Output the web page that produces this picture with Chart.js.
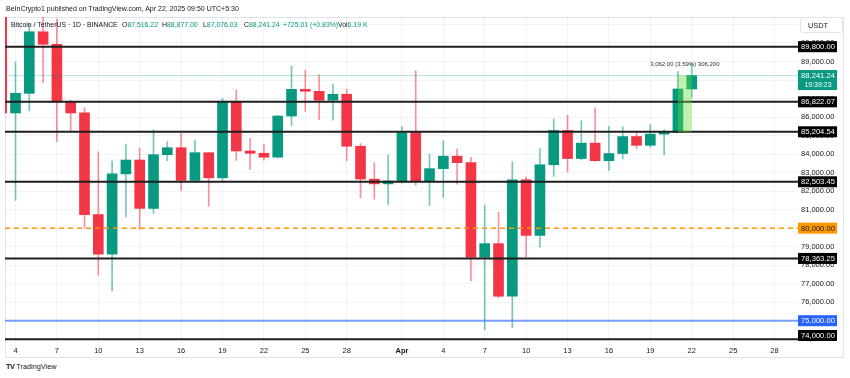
<!DOCTYPE html>
<html><head><meta charset="utf-8">
<script src="https://cdn.jsdelivr.net/npm/chart.js@4.4.1/dist/chart.umd.min.js"></script>
<style>
html,body{margin:0;padding:0;background:#fff;width:850px;height:378px;overflow:hidden;font-family:"Liberation Sans",Arial,sans-serif;color:#131722}
#wrap{position:relative;width:850px;height:378px}
#frame{position:absolute;left:5px;top:17px;width:839px;height:341px;border:1px solid #e0e3eb;box-sizing:border-box}
canvas{position:absolute;left:0;top:0}
.t{position:absolute;white-space:nowrap;line-height:8px}
#pub{left:6px;top:5px;font-size:7px}
.lg{top:21px;font-size:6.9px}
.g{color:#089981}
#footer{left:6px;top:363px;font-size:7.3px}
#footer b{font-weight:900;letter-spacing:-0.5px;margin-right:2px}
</style></head>
<body><div id="wrap">
<div id="frame"></div>
<canvas id="c" width="850" height="358"></canvas>
<div class="t" id="pub">BeInCrypto1 published on TradingView.com, Apr 22, 2025 09:50 UTC+5:30</div>
<div class="t lg" style="left:11px">Bitcoin / TetherUS · 1D · BINANCE</div>
<div class="t lg" style="left:122px">O<span class="g">87,516.22</span></div>
<div class="t lg" style="left:162px">H<span class="g">88,877.00</span></div>
<div class="t lg" style="left:203px">L<span class="g">87,076.03</span></div>
<div class="t lg" style="left:244px">C<span class="g">88,241.24</span></div>
<div class="t lg g" style="left:283px">+725.01 (+0.83%)</div>
<div class="t lg" style="left:338px">Vol<span class="g">6.19 K</span></div>
<div class="t" id="footer"><b>TV</b>TradingView</div>
</div>
<script>
// Day offsets from Mar 4, 2025 (Mar 3 = -1 ... Apr 22 = 49)
const dayIndex = [-1,0,1,2,3,4,5,6,7,8,9,10,11,12,13,14,15,16,17,18,19,20,21,22,23,24,25,26,27,
  28,29,30,31,32,33,34,35,36,37,38,39,40,41,42,43,44,45,46,47,48,49];
const opens  = [94270,86221,87281,90606,89931,86801,86222,80734,78596,82932,83680,81066,83969,84343,82580,84075,82718,86854,84167,84043,83832,86054,87498,87392,86909,87232,84424,82649,82390,
  82550,85158,82516,83213,83889,83538,78430,79163,76322,82615,79607,83423,85276,83760,84591,83643,84030,84947,84474,85077,85179,87516.22];
const highs  = [94416,88967,91000,92811,91283,86897,86500,84123,83617,84539,84336,85310,84672,85117,84756,84075,87000,87454,84850,84513,86094,88765,88540,88292,87786,87515,84567,83534,83943,
  85487,88500,83999,84720,84266,83818,81243,80867,83588,82753,84300,85905,86100,85799,86496,85500,85470,85132,85597,85320,88460,88877];
const lows   = [85117,81500,86334,87852,84667,85218,80000,77459,76606,80607,79939,80794,83639,82017,82457,81179,82547,83655,83175,83674,83794,85541,86310,85858,85837,83645,81634,81565,81279,
  82432,82320,81211,81659,82379,77153,74508,76239,74620,78464,78969,82792,83034,83678,83600,83111,83736,84303,84353,83949,85144,87076.03];
const closes = [86220,87281,90606,89931,86801,86222,80734,78595,82932,83680,81067,83969,84344,82580,84075,82718,86854,84167,84043,83832,86054,87498,87392,86909,87232,84424,82649,82390,82550,
  85158,82516,83213,83889,83538,78430,79163,76322,82615,79607,83423,85276,83760,84591,83643,84030,84947,84474,85077,85179,87516,88241.24];

const xTickDays   = [0,3,6,9,12,15,18,21,24,28,31,34,37,40,43,46,49,52,55];
const xTickLabels = ['4','7','10','13','16','19','22','25','28','Apr','4','7','10','13','16','19','22','25','28'];
const yTicks = [74000,75000,76000,77000,78000,79000,80000,81000,82000,83000,84000,85000,86000,87000,88000,89000,90000,91000];

const blackLevels = [89800, 86822.07, 85204.54, 82503.45, 78363.25, 74000];
const orangeLevel = 80000;
const blueLevel = 75000;
const lastPrice = 88241.24;
const lastTime = '19:39:23';
const measureDays = [48, 49];
const measurePrices = [85179.24, 88241.24];
const measureText = '3,062.00 (3.59%) 306,200';

const XMIN = -0.761, XMAX = 56.70, YMIN = 73688, YMAX = 91404;
const UP = '#089981', DOWN = '#f23645';
const fmt = v => v.toLocaleString('en-US',{minimumFractionDigits:2, maximumFractionDigits:2});

Chart.defaults.font.family = '"Liberation Sans", Arial, sans-serif';

const isUp = i => closes[i] >= opens[i];
const hline = (v, color, width, dash) => ({
  type:'line', data:[{x:XMIN,y:v},{x:XMAX,y:v}], borderColor:color, borderWidth:width,
  borderDash:dash||[], pointRadius:0, order:0, fill:false
});

const datasets = [
  hline(lastPrice, 'rgba(8,153,129,0.28)', 1),
  ...blackLevels.map(v => hline(v, '#1e1e1e', 2)),
  hline(orangeLevel, '#ff9800', 1.5, [5,4]),
  hline(blueLevel, 'rgba(41,98,255,0.6)', 2),
  { type:'bar', data: dayIndex.map((d,i)=>({x:d, y:[opens[i], closes[i]]})),
    backgroundColor: dayIndex.map((d,i)=> isUp(i)?UP:DOWN), barThickness:10, grouped:false, order:1 },
  { type:'bar', data: dayIndex.map((d,i)=>({x:d, y:[lows[i], highs[i]]})),
    backgroundColor: dayIndex.map((d,i)=> isUp(i)?'rgba(8,153,129,0.55)':'rgba(242,54,69,0.55)'), barThickness:1, grouped:false, order:2 }
];

const overlay = {
  id:'overlay',
  afterDatasetsDraw(c){
    const {ctx, scales:{x,y}} = c;
    const x0 = x.getPixelForValue(measureDays[0]), x1 = x.getPixelForValue(measureDays[1]);
    const y0 = y.getPixelForValue(measurePrices[1]), y1 = y.getPixelForValue(measurePrices[0]);
    ctx.save();
    ctx.fillStyle = 'rgba(100,220,60,0.4)';
    ctx.fillRect(x0, y0, x1-x0, y1-y0);
    ctx.fillStyle = '#2a2e39';
    ctx.font = '6px "Liberation Sans", Arial, sans-serif';
    ctx.textAlign = 'center'; ctx.textBaseline = 'middle';
    ctx.fillText(measureText, (x0+x1)/2, y0-11.5);
    ctx.restore();
  },
  afterDraw(c){
    const {ctx, chartArea:a, scales:{y}} = c;
    const bx = a.right, bw = 39;
    ctx.save();
    ctx.textAlign = 'center'; ctx.textBaseline = 'middle';
    const box = (v, bg, fg) => {
      let top = y.getPixelForValue(v) - 5.5;
      if (top + 11 > a.bottom - 4) top = a.bottom - 4 - 11;
      ctx.fillStyle = bg; ctx.fillRect(bx, top, bw, 11);
      ctx.fillStyle = fg; ctx.font = '7.6px "Liberation Sans", Arial, sans-serif';
      ctx.fillText(fmt(v), bx + bw/2 + 0.5, top + 5.8);
    };
    blackLevels.forEach(v => box(v, '#000000', '#ffffff'));
    box(orangeLevel, '#ff9800', '#131722');
    box(blueLevel, '#2962ff', '#ffffff');
    // last price label
    const py = y.getPixelForValue(lastPrice);
    ctx.fillStyle = UP; ctx.fillRect(bx, py-5.5, bw, 20);
    ctx.fillStyle = '#ffffff';
    ctx.font = '7.6px "Liberation Sans", Arial, sans-serif';
    ctx.fillText(fmt(lastPrice), bx + bw/2 + 0.5, py + 0.3);
    ctx.font = '7px "Liberation Sans", Arial, sans-serif';
    ctx.fillText(lastTime, bx + bw/2 + 0.5, py + 9.5);
    // currency header
    ctx.fillStyle = '#ffffff';
    ctx.strokeStyle = '#e0e3eb'; ctx.lineWidth = 1;
    ctx.beginPath(); ctx.roundRect(800.5, 17.5, 42, 15, 3); ctx.fill(); ctx.stroke();
    ctx.fillStyle = '#131722'; ctx.font = '7.4px "Liberation Sans", Arial, sans-serif';
    ctx.fillText('USDT', 818, 25.5);
    ctx.restore();
  }
};

new Chart(document.getElementById('c'), {
  type:'bar',
  data:{ datasets },
  options:{
    responsive:false, animation:false, devicePixelRatio:1,
    layout:{ padding:{ top:17, left:5, right:0, bottom:0 } },
    plugins:{ legend:{display:false}, tooltip:{enabled:false} },
    scales:{
      x:{
        type:'linear', min:XMIN, max:XMAX, offset:false,
        grid:{ color:'rgba(42,46,57,0.06)', drawTicks:false, offset:false },
        border:{ display:false },
        afterBuildTicks: s => { s.ticks = xTickDays.map(v => ({value:v})); },
        afterFit: s => { s.height = 13; },
        ticks:{
          autoSkip:false, maxRotation:0, padding:1, color:'#131722',
          callback:(v,i) => xTickLabels[i],
          font: ctx => ({ size:7.5, weight: (ctx.tick && xTickLabels[ctx.index]==='Apr') ? 'bold' : 'normal' })
        }
      },
      y:{
        type:'linear', position:'right', min:YMIN, max:YMAX,
        grid:{ color:'rgba(42,46,57,0.06)', drawTicks:false },
        border:{ display:false },
        afterBuildTicks: s => { s.ticks = yTicks.map(v => ({value:v})); },
        afterFit: s => { s.width = 52; },
        ticks:{ padding:3, color:'#131722', font:{size:7.5}, callback: v => fmt(v) }
      }
    }
  },
  plugins:[overlay]
});
</script>
</body></html>
